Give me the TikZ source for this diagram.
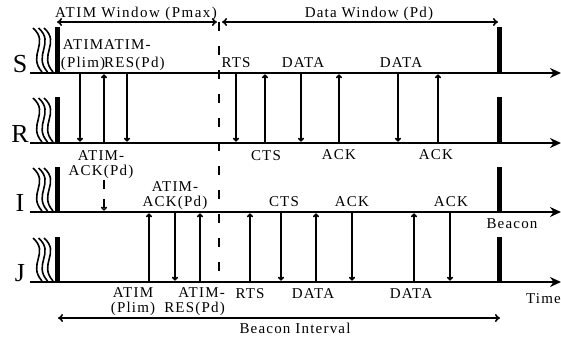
\documentclass[tikz,border=0pt]{standalone}
\usepackage{fontspec}
\setmainfont{Liberation Serif}
\newfontfamily\labfont[LetterSpace=8]{Liberation Serif}
\newfontfamily\titlefont[LetterSpace=10]{Liberation Serif}
\usetikzlibrary{arrows.meta}
\begin{document}
\begin{tikzpicture}[x=1pt,y=-1pt,
  lbl/.style={font={\labfont\fontsize{15}{15}\selectfont}, inner sep=0pt},
  lblwide/.style={font={\labfont\fontsize{15}{18}\selectfont}, inner sep=0pt},
  ttl/.style={font={\titlefont\fontsize{15}{15}\selectfont}, inner sep=0pt},
  rowname/.style={font={\fontsize{26}{26}\selectfont}, inner sep=0pt, anchor=base},
  axis/.style={line width=2.6pt, -{Stealth[length=11pt,width=10pt]}},
  bar/.style={line width=5pt},
  msg/.style={line width=1.5pt, -{To[length=4pt,width=6pt]}, shorten <=1.3pt, shorten >=1.3pt},
  span/.style={line width=1.6pt, {To[length=5pt,width=8pt]}-{To[length=5pt,width=8pt]}},
  wavy/.style={line width=1.6pt},
  divider/.style={line width=1.2pt, dash pattern=on 9pt off 15pt}
]
\useasboundingbox (0,0) rectangle (561,343);

% rows: name / line y / top of bars
\foreach \n/\y/\t in {S/73/27, R/143/97, I/212/167, J/282/237} {
  \coordinate (\n0) at (30,\y);
  \coordinate (\n1) at (561,\y);
  \coordinate (\n L) at (57,\t);
  \coordinate (\n Lb) at (57,\y);
  \coordinate (\n R) at (499,\t);
  \coordinate (\n Rb) at (499,\y);
  \draw[axis] (\n0) -- (\n1);
  \draw[bar] (\n L) -- (\n Lb);
  \draw[bar] (\n R) -- (\n Rb);
  \node[rowname] (name\n) at (20,\y-1) {\n};
  \foreach \x in {33,38.5,44} {
    \draw[wavy] (\x,\t+1) .. controls (\x+17,\t+16) and (\x-6,\y-18) .. (\x+9,\y-1);
  }
}

% divider between ATIM window and data window
\coordinate (dtop) at (219,22);
\coordinate (dbot) at (219,280);
\draw[divider] (dtop) -- (dbot);

% window spans
\coordinate (aw0) at (57,22);
\coordinate (aw1) at (217,22);
\coordinate (dw0) at (222,22);
\coordinate (dw1) at (498,22);
\draw[span] (aw0) -- (aw1);
\draw[span] (dw0) -- (dw1);
\node[ttl, anchor=base] (atimw) at (136,17) {ATIM Window (Pmax)};
\node[lbl, anchor=base] (dataw) at (369,17) {Data Window (Pd)};

% beacon interval
\coordinate (bi0) at (58,318);
\coordinate (bi1) at (500,318);
\draw[span] (bi0) -- (bi1);
\node[lbl, anchor=base] (bint) at (295,333) {Beacon Interval};

% S -> R (down) and R -> S (up)
\foreach \x in {80,127,236,301,398} {
  \coordinate (sa\x) at (\x,73); \coordinate (sb\x) at (\x,143);
  \draw[msg] (sa\x) -- (sb\x);
}
\foreach \x in {104,265,339,438} {
  \coordinate (ra\x) at (\x,143); \coordinate (rb\x) at (\x,73);
  \draw[msg] (ra\x) -- (rb\x);
}
% I -> J (down) and J -> I (up)
\foreach \x in {175,281,352,450} {
  \coordinate (ia\x) at (\x,212); \coordinate (ib\x) at (\x,282);
  \draw[msg] (ia\x) -- (ib\x);
}
\foreach \x in {149,200,250,316,414} {
  \coordinate (ja\x) at (\x,282); \coordinate (jb\x) at (\x,212);
  \draw[msg] (ja\x) -- (jb\x);
}
% overheard ATIM-ACK at I
\coordinate (ov0) at (104,179);
\coordinate (ov1) at (104,212);
\draw[msg, dash pattern=on 9pt off 10pt] (ov0) -- (ov1);

% S row labels
\node[lblwide, align=center] (sAtim) at (83,55) {ATIM\\(Plim)};
\node[lblwide, align=left, anchor=west] (sRes) at (104,55) {ATIM-\\RES(Pd)};
\node[lbl, anchor=base] (sRts) at (236,67) {RTS};
\node[lbl, anchor=base] (sData1) at (303,67) {DATA};
\node[lbl, anchor=base] (sData2) at (401,67) {DATA};
% R row labels
\node[lbl, align=center] (rAck) at (101,165) {ATIM-\\ACK(Pd)};
\node[lbl, anchor=base] (rCts) at (266,160) {CTS};
\node[lbl, anchor=base] (rAck1) at (339,159) {ACK};
\node[lbl, anchor=base] (rAck2) at (436,159) {ACK};
% I row labels
\node[lbl, align=center] (iAck) at (175,196) {ATIM-\\ACK(Pd)};
\node[lbl, anchor=base] (iCts) at (284,206) {CTS};
\node[lbl, anchor=base] (iAck1) at (352,206) {ACK};
\node[lbl, anchor=base] (iAck2) at (451,206) {ACK};
\node[lbl, anchor=base] (beacon) at (512,228) {Beacon};
% J row labels
\node[lbl, align=center] (jAtim) at (133,302) {ATIM\\(Plim)};
\node[lbl, align=right, anchor=east] (jRes) at (225,302) {ATIM-\\RES(Pd)};
\node[lbl, anchor=base] (jRts) at (250,298) {RTS};
\node[lbl, anchor=base] (jData1) at (313,298) {DATA};
\node[lbl, anchor=base] (jData2) at (411,298) {DATA};
\node[lbl, anchor=base east] (time) at (561,303) {Time};
\end{tikzpicture}
\end{document}
